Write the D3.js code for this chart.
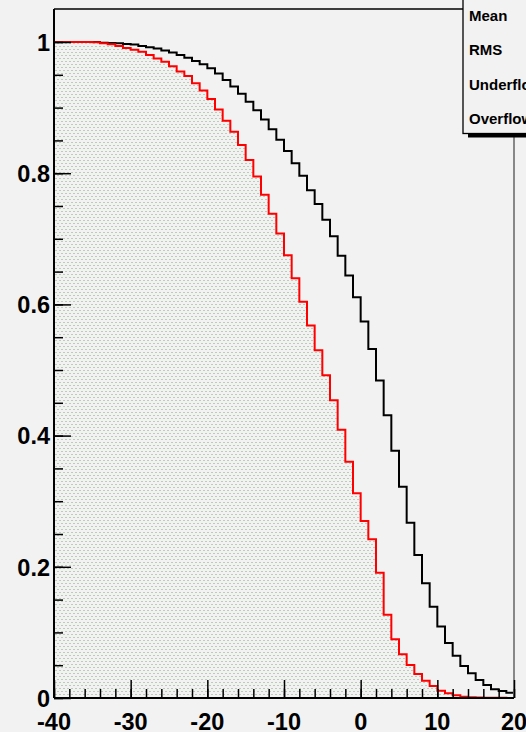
<!DOCTYPE html>
<html>
<head>
<meta charset="utf-8">
<script src="https://cdn.jsdelivr.net/npm/d3@7"></script>
<style>
  html, body { margin: 0; padding: 0; background: #f2f2f2; overflow: hidden; }
  svg { display: block; }
  text { font-family: "Liberation Sans", Arial, Helvetica, sans-serif; font-weight: bold; }
</style>
</head>
<body>
<svg id="chart" width="526" height="732"></svg>
<script>
// Histogram range and binning (60 bins of width 1 from -40 to 20)
const xMin = -40, xMax = 20;
const binLowEdges = d3.range(-40, 20, 1);

// Bin contents
const blackValues = [
  1.000, 1.000, 1.000, 1.000, 1.000, 1.000, 0.999, 0.9985, 0.998, 0.997,
  0.996, 0.994, 0.992, 0.990, 0.987, 0.984, 0.980, 0.976, 0.971, 0.966,
  0.960, 0.952, 0.942, 0.932, 0.921, 0.909, 0.896, 0.882, 0.867, 0.851,
  0.834, 0.815, 0.796, 0.774, 0.753, 0.729, 0.704, 0.674, 0.644, 0.611,
  0.574, 0.532, 0.484, 0.431, 0.377, 0.322, 0.267, 0.218, 0.175, 0.139,
  0.109, 0.084, 0.0645, 0.0488, 0.0377, 0.0274, 0.0198, 0.0133, 0.0107, 0.0081
];
const redValues = [
  1.000, 1.000, 1.000, 1.000, 1.000, 0.9995, 0.998, 0.9965, 0.994, 0.991,
  0.988, 0.985, 0.980, 0.975, 0.970, 0.963, 0.955, 0.948, 0.937, 0.926,
  0.913, 0.897, 0.880, 0.863, 0.843, 0.820, 0.795, 0.767, 0.738, 0.708,
  0.675, 0.640, 0.604, 0.568, 0.530, 0.492, 0.454, 0.409, 0.360, 0.312,
  0.270, 0.242, 0.191, 0.127, 0.0895, 0.0666, 0.0503, 0.0366, 0.0264, 0.0183,
  0.0111, 0.0072, 0.0041, 0.0020, 0.0011, 0.0008, 0.0005, 0.0003, 0.0002, 0.0001
];

// Axis ticks
const xMajorTicks = [-40, -30, -20, -10, 0, 10, 20];
const xTickLabels = ["-40", "-30", "-20", "-10", "0", "10", "20"];
const xMinorTicks = d3.range(-40, 20.001, 2);
const yMajorTicks = [0, 0.2, 0.4, 0.6, 0.8, 1];
const yTickLabels = ["0", "0.2", "0.4", "0.6", "0.8", "1"];
const yMinorTicks = d3.range(0, 1.0001, 0.05);
const yMax = 1.0503;

// Statistics box entries
const statLabels = ["Mean", "RMS", "Underflow", "Overflow"];

const svg = d3.select("#chart");
const frame = { left: 54, right: 514, top: 9, bottom: 698 };

const x = d3.scaleLinear().domain([xMin, xMax]).range([frame.left, frame.right]);
const y = d3.scaleLinear().domain([0, yMax]).range([frame.bottom, frame.top]);

// Dotted fill pattern for the red histogram
const dotColor = "#b9cdb9";
const defs = svg.append("defs");
const pat = defs.append("pattern")
  .attr("id", "dots")
  .attr("patternUnits", "userSpaceOnUse")
  .attr("width", 4).attr("height", 6);
pat.append("rect").attr("x", 1).attr("y", 1).attr("width", 2).attr("height", 1).attr("fill", dotColor);
pat.append("rect").attr("x", 3).attr("y", 4).attr("width", 2).attr("height", 1).attr("fill", dotColor);
pat.append("rect").attr("x", -1).attr("y", 4).attr("width", 2).attr("height", 1).attr("fill", dotColor);

// Step outline of a histogram, closed down to zero at both ends
function stepPoints(values) {
  const pts = [[x(binLowEdges[0]), y(0)]];
  values.forEach((v, i) => {
    pts.push([x(binLowEdges[i]), y(v)]);
    pts.push([x(binLowEdges[i] + 1), y(v)]);
  });
  pts.push([x(binLowEdges[values.length - 1] + 1), y(0)]);
  return pts;
}
const line = d3.line();

// Black histogram
svg.append("path")
  .attr("d", line(stepPoints(blackValues)))
  .attr("fill", "none")
  .attr("stroke", "#000")
  .attr("stroke-width", 2)
  .attr("stroke-linejoin", "miter");

// Red histogram with dotted fill
svg.append("path")
  .attr("d", line(stepPoints(redValues)) + "Z")
  .attr("fill", "url(#dots)")
  .attr("stroke", "none");
svg.append("path")
  .attr("d", line(stepPoints(redValues)))
  .attr("fill", "none")
  .attr("stroke", "#ff0000")
  .attr("stroke-width", 2)
  .attr("stroke-linejoin", "miter");

// Frame
svg.append("line")
  .attr("x1", frame.left).attr("x2", frame.right)
  .attr("y1", frame.top).attr("y2", frame.top)
  .attr("stroke", "#000").attr("stroke-width", 1.5);
svg.append("line")
  .attr("x1", frame.right).attr("x2", frame.right)
  .attr("y1", frame.top).attr("y2", frame.bottom)
  .attr("stroke", "#888").attr("stroke-width", 2);

// X axis
const gx = svg.append("g").attr("transform", `translate(0,${frame.bottom})`);
gx.call(d3.axisTop(x).tickValues(xMinorTicks).tickSize(9).tickFormat(""))
  .call(g => g.select(".domain").remove());
gx.append("g")
  .call(d3.axisTop(x).tickValues(xMajorTicks).tickSize(18).tickFormat(""))
  .call(g => g.select(".domain").remove());
gx.selectAll(".tick line").attr("stroke", "#000").attr("stroke-width", 1.5);
gx.append("line")
  .attr("x1", frame.left).attr("x2", frame.right)
  .attr("stroke", "#000").attr("stroke-width", 2);
gx.selectAll(".xlabel")
  .data(xMajorTicks)
  .enter().append("text")
  .attr("class", "xlabel")
  .attr("x", d => x(d))
  .attr("y", 31.5)
  .attr("text-anchor", "middle")
  .attr("font-size", 23.5)
  .attr("fill", "#000")
  .text((d, i) => xTickLabels[i]);

// Y axis
const gy = svg.append("g").attr("transform", `translate(${frame.left},0)`);
gy.call(d3.axisRight(y).tickValues(yMinorTicks).tickSize(9).tickFormat(""))
  .call(g => g.select(".domain").remove());
gy.append("g")
  .call(d3.axisRight(y).tickValues(yMajorTicks).tickSize(17).tickFormat(""))
  .call(g => g.select(".domain").remove());
gy.selectAll(".tick line").attr("stroke", "#000").attr("stroke-width", 1.5);
gy.append("line")
  .attr("y1", frame.top).attr("y2", frame.bottom)
  .attr("stroke", "#000").attr("stroke-width", 2);
gy.selectAll(".ylabel")
  .data(yMajorTicks)
  .enter().append("text")
  .attr("class", "ylabel")
  .attr("x", -4)
  .attr("y", d => y(d) + 8.8)
  .attr("text-anchor", "end")
  .attr("font-size", 23.5)
  .attr("fill", "#000")
  .text((d, i) => yTickLabels[i]);

// Statistics box (extends past the canvas edge)
const box = svg.append("g");
box.append("rect")
  .attr("x", 468).attr("y", 133.5).attr("width", 80).attr("height", 4)
  .attr("fill", "#000");
box.append("rect")
  .attr("x", 463).attr("y", -60).attr("width", 90).attr("height", 193.5)
  .attr("fill", "#f2f2f2").attr("stroke", "#000").attr("stroke-width", 1.3);
box.selectAll(".stat")
  .data(statLabels)
  .enter().append("text")
  .attr("class", "stat")
  .attr("x", 469)
  .attr("y", (d, i) => 20.5 + i * 34.5)
  .attr("font-size", 15)
  .attr("fill", "#000")
  .text(d => d);
</script>
</body>
</html>
